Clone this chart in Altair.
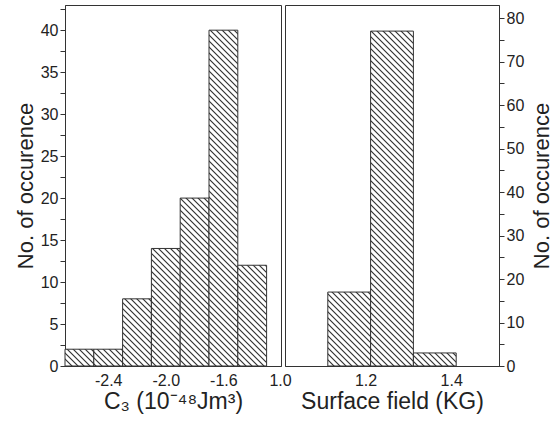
import math
import altair as alt
import pandas as pd

# ---------------- data ----------------
c3_bin_start = [-2.7, -2.5, -2.3, -2.1, -1.9, -1.7, -1.5]
c3_bin_end = [-2.5, -2.3, -2.1, -1.9, -1.7, -1.5, -1.3]
c3_counts = [2, 2, 8, 14, 20, 40, 12]

sf_bin_start = [1.1, 1.2, 1.3]
sf_bin_end = [1.2, 1.3, 1.4]
sf_counts = [17, 77, 3]

c3_tick_values = [-2.4, -2.0, -1.6]
sf_tick_values = [1.0, 1.2, 1.4]

# ---------------- layout / style ----------------
C3_X_DOMAIN = [-2.7, -1.2]
C3_Y_DOMAIN = [0, 43]
SF_X_DOMAIN = [1.0, 1.5]
SF_Y_DOMAIN = [0, 83]
W1, W2, H = 216, 214, 361

FONT = "Liberation Sans"
INK = "#333333"
HATCH_INK = "#3a3a3a"
BG = "#ffffff"
S = 6.0      # horizontal spacing of hatch lines (px)
A = 0.9      # half width of line incl. soft edge (perpendicular px)
B = 0.3      # half width of solid core


def hatch_fill(x_left, x_right, count, xdom, ydom, width, height):
    """Diagonal '\\' hatch as a sharp-stop linear gradient in bbox units."""
    x0 = (x_left - xdom[0]) / (xdom[1] - xdom[0]) * width
    x1 = (x_right - xdom[0]) / (xdom[1] - xdom[0]) * width
    w = x1 - x0
    h = (count - ydom[0]) / (ydom[1] - ydom[0]) * height
    y0 = height - h
    L = w + h
    k = math.sqrt(2) / L
    lo = x0 - height
    hi = x0 + w - y0
    stops = [alt.GradientStop(offset=0, color=BG)]
    m = math.floor(lo / S)
    last = 0.0
    while m * S <= hi + S:
        s = (m * S - lo) / L
        m += 1
        if s - A * k < last or s + A * k > 1:
            continue
        for off, col in [(s - A * k, BG), (s - B * k, HATCH_INK),
                         (s + B * k, HATCH_INK), (s + A * k, BG)]:
            stops.append(alt.GradientStop(offset=round(off, 6), color=col))
        last = s + A * k
    stops.append(alt.GradientStop(offset=1, color=BG))
    t = (w + h) / (w * w + h * h)
    return alt.LinearGradient(gradient="linear", stops=stops,
                              x1=0, y1=1, x2=t * w, y2=1 - t * h)


def panel(starts, ends, counts, xdom, ydom, width, xaxis, yaxis):
    df = pd.DataFrame({"start": starts, "end": ends, "count": counts,
                       "base": [0] * len(counts)})
    layers = []
    for i in range(len(df)):
        fill = hatch_fill(df.start[i], df.end[i], df["count"][i], xdom, ydom, width, H)
        layers.append(
            alt.Chart(df.iloc[[i]]).mark_rect(fill=fill, stroke=INK, strokeWidth=1)
            .encode(
                x=alt.X("start:Q", scale=alt.Scale(domain=xdom, nice=False, zero=False), axis=xaxis),
                x2="end:Q",
                y=alt.Y("count:Q", scale=alt.Scale(domain=ydom, nice=False), axis=yaxis),
                y2="base:Q",
            )
        )
    return alt.layer(*layers).properties(width=width, height=H)


left = panel(
    c3_bin_start, c3_bin_end, c3_counts, C3_X_DOMAIN, C3_Y_DOMAIN, W1,
    alt.Axis(values=c3_tick_values, format=".1f",
             labelExpr="replace(datum.label, '\u2212', '-')",
             ticks=False, labelPadding=6, labelFlush=False,
             title="C\u2083 (10\u207b\u2074\u2078Jm\u00b3)", titleY=35,
             titleBaseline="middle", titleFontSize=23),
    alt.Axis(values=[v * 2.5 for v in range(0, 18)],
             labelExpr="datum.value % 5 == 0 ? datum.label : ''",
             tickSize=5, labelPadding=2, labelOverlap=False,
             title="No. of occurence", titleAngle=270, titleX=-40, titleY=H / 2,
             titleBaseline="middle", titleAlign="center"),
)

right = panel(
    sf_bin_start, sf_bin_end, sf_counts, SF_X_DOMAIN, SF_Y_DOMAIN, W2,
    alt.Axis(values=sf_tick_values, format=".1f",
             ticks=False, labelPadding=6, labelFlush=False, labelOffset=-5,
             title="Surface field (KG)", titleY=35,
             titleBaseline="middle", titleFontSize=23),
    alt.Axis(orient="right", values=list(range(0, 85, 5)),
             labelExpr="datum.value % 10 == 0 ? datum.label : ''",
             tickSize=5, labelPadding=2, labelOverlap=False,
             title="No. of occurence", titleAngle=270, titleX=42, titleY=H / 2,
             titleBaseline="middle", titleAlign="center"),
)

chart = (
    alt.hconcat(left, right, spacing=4, bounds="flush")
    .properties(padding={"left": 13, "top": 0, "right": 0, "bottom": 0},
                background="white")
    .configure_view(stroke=INK, strokeWidth=1)
    .configure_axis(grid=False, domainColor=INK, tickColor=INK,
                    labelFont=FONT, labelFontSize=16, labelColor="#222",
                    titleFont=FONT, titleFontSize=22, titleFontWeight="normal",
                    titleColor="#222")
)

chart.save("out.html", embed_options={"renderer": "svg", "actions": False})
